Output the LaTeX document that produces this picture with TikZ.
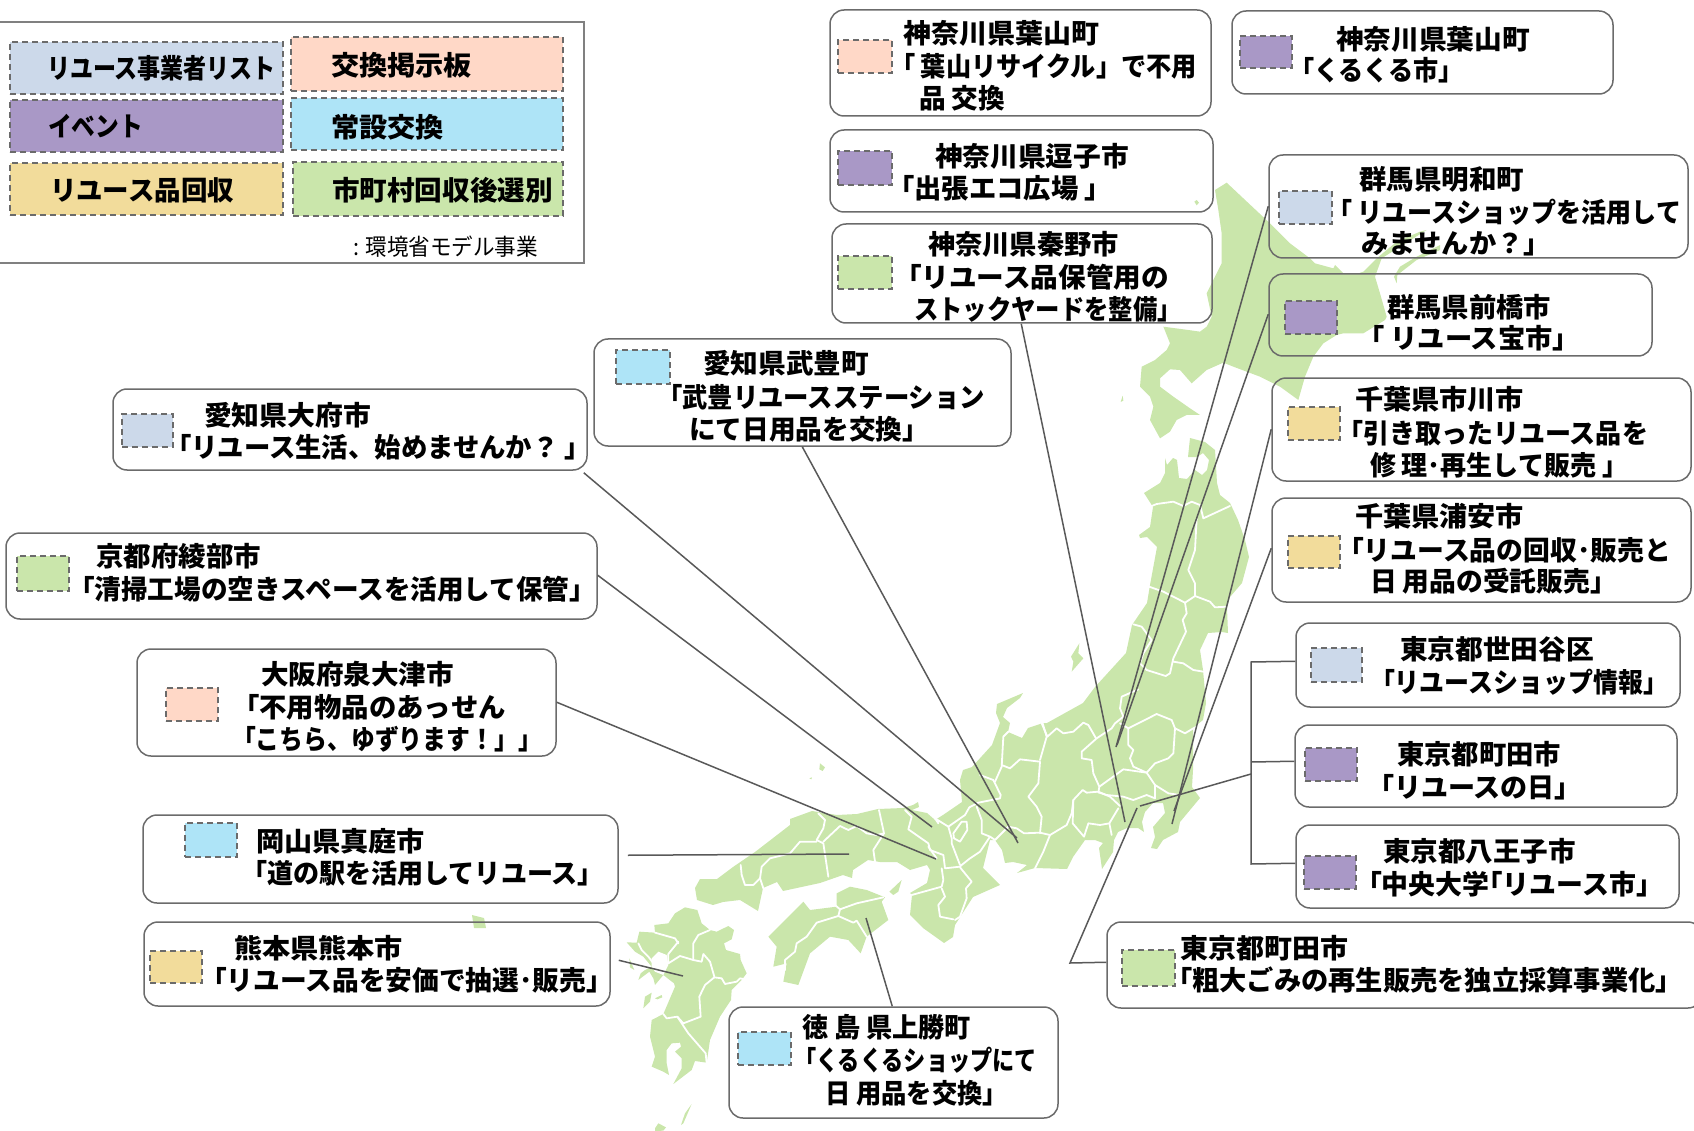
\documentclass[tikz,border=0pt]{standalone}
\usepackage{fontspec}
\usepackage{graphicx}
\setmainfont{Noto Sans CJK JP}
\usetikzlibrary{fit,calc}
\definecolor{landc}{HTML}{CAE6AB}
\definecolor{cblue}{HTML}{CCD9EA}
\definecolor{cpeach}{HTML}{FFD8C7}
\definecolor{cpurple}{HTML}{A998C6}
\definecolor{csky}{HTML}{AEE4F7}
\definecolor{ctan}{HTML}{F2DC9B}
\definecolor{cline}{HTML}{595959}
\definecolor{cbox}{HTML}{6B6B6B}
\tikzset{
  zoomed/.style 2 args={shift={(#1,#2)},x=0.33333pt,y=-0.33333pt},
  land/.style={fill=landc,draw=none},
  ml/.style={draw=white,line width=1.8pt,line join=round,line cap=round},
  conn/.style={draw=cline,line width=1.5pt,line join=miter},
  calloutbox/.style={draw=cbox,line width=1.5pt,rounded corners=14pt,inner sep=0pt},
  legendframe/.style={draw=black!50,line width=1.5pt,inner sep=0pt},
  swatchbox/.style={draw=cbox,line width=1.5pt,dash pattern=on 6pt off 4pt,inner sep=0pt},
  lbl/.style={anchor=west,inner sep=0pt,outer sep=0pt,font=\fontsize{27}{30}\selectfont\bfseries},
  lblthin/.style={anchor=west,inner sep=0pt,outer sep=0pt,font=\fontsize{23}{26}\selectfont},
}
\newcommand\callout[5]{\path (#2,#3) coordinate (tmpa) (#4,#5) coordinate (tmpb);\node[calloutbox,fit=(tmpa)(tmpb)] (#1) {};}
\newcommand\swatch[6]{\path (#2,#3) coordinate (tmpa) (#4,#5) coordinate (tmpb);\node[swatchbox,fill=#6,fit=(tmpa)(tmpb)] (#1) {};}
\newcommand\tl[5]{\pgfmathsetmacro\tlw{#3-#2}\node[lbl] (#1) at (#2,#4) {\resizebox{\tlw pt}{\height}{\vphantom{国}#5}};}
\begin{document}
\begin{tikzpicture}[x=1pt,y=-1pt]
\useasboundingbox (0,0) rectangle (1694,1131);

% ---------- map: Hokkaido
\begin{scope}[zoomed={1000}{130}]
\fill[land] plot coordinates {(680,158) (730,205) (810,280) (870,340) (930,385) (945,400) (1000,415) (1005,405) (1030,430) (1070,432) (1090,425) (1130,385) (1190,335) (1260,305) (1280,300) (1145,385) (1125,440) (1140,490) (1160,560) (1155,570) (1090,610) (1030,610) (1010,615) (970,640) (940,680) (915,740) (895,810) (840,770) (780,740) (700,710) (670,698) (620,720) (575,760) (540,720) (510,718) (480,745) (480,770) (520,800) (570,835) (600,855) (560,855) (530,870) (510,905) (480,925) (450,870) (460,830) (450,800) (420,770) (425,710) (465,690) (500,660) (510,640) (490,590) (565,600) (600,605) (620,590) (635,560) (620,490) (665,400) (665,310) (655,240) (645,180)} -- cycle;
\fill[land] plot coordinates {(1182,440) (1190,460) (1192,435) (1250,390) (1320,360) (1320,345) (1250,380) (1200,410)} -- cycle;
\fill[land] plot coordinates {(583,215) (590,210) (597,218) (590,226)} -- cycle;
\fill[land] plot coordinates {(368,797) (370,812) (362,816)} -- cycle;
\end{scope}

% ---------- map: Honshu
\fill[land] plot coordinates {(1165,458) (1167,465) (1173,458) (1177,460) (1179,478) (1187,479) (1195,470) (1202,475) (1207,470) (1209,460) (1203,453) (1197,457) (1188,457) (1190,438) (1205,442) (1215,450) (1217,483) (1220,495) (1230,503) (1238,520) (1245,540) (1249,557) (1242,583) (1230,597) (1227,608) (1228,633) (1222,632) (1208,633) (1200,650) (1203,670) (1206,703) (1203,720) (1193,728) (1193,770) (1192,787) (1200,798) (1180,822) (1178,832) (1163,840) (1157,849) (1151,848) (1155,837) (1153,827) (1165,813) (1163,803) (1153,803) (1145,812) (1142,822) (1144,832) (1138,828) (1127,828) (1118,832) (1114,840) (1113,852) (1102,869) (1099,848) (1103,843) (1095,840) (1085,840) (1073,857) (1067,869) (1035,868) (1017,873) (1027,865) (1013,862) (1005,863) (1002,850) (995,840) (990,840) (983,868) (1000,885) (973,897) (955,925) (953,937) (944,943) (923,928) (910,915) (912,895) (910,893) (927,883) (930,870) (927,865) (910,870) (897,862) (880,862) (868,860) (853,870) (852,878) (843,875) (820,883) (783,891) (777,882) (763,888) (758,911) (740,900) (723,902) (713,905) (697,900) (695,888) (700,879) (717,879) (733,867) (755,852) (790,825) (790,819) (812,811) (837,815) (857,814) (878,809) (903,808) (913,805) (918,802) (919,807) (912,810) (927,813) (935,820) (943,815) (962,802) (960,780) (963,770) (972,767) (992,745) (1000,723) (996,713) (997,704) (1023,693) (1020,698) (1007,708) (1003,717) (1010,723) (1008,732) (1022,738) (1028,728) (1043,723) (1047,723) (1083,703) (1095,687) (1126,653) (1132,625) (1147,603) (1150,585) (1157,547) (1147,537) (1140,538) (1139,535) (1150,527) (1153,507) (1144,493) (1160,483) (1165,473)} -- cycle;

% ---------- map: Shikoku, Awaji, Oki, Sado
\begin{scope}[zoomed={640}{680}]
\fill[land] plot coordinates {(630,620) (680,630) (735,652) (725,665) (745,720) (680,770) (662,820) (625,780) (570,770) (510,820) (475,915) (430,905) (440,850) (400,860) (410,800) (385,770) (490,665) (510,690) (590,680) (590,640)} -- cycle;
\fill[land] plot coordinates {(785,600) (775,635) (760,645) (748,635)} -- cycle;
\fill[land] plot coordinates {(540,250) (555,262) (548,273) (538,268)} -- cycle;
\fill[land] plot coordinates {(508,295) (516,292) (514,298)} -- cycle;
\end{scope}
\begin{scope}[zoomed={1040}{640}]
\fill[land] plot coordinates {(118,10) (115,40) (130,55) (95,95) (100,65) (93,50)} -- cycle;
\end{scope}

% ---------- map: Kyushu and islands
\begin{scope}[zoomed={600}{880}]
\fill[land] plot coordinates {(255,82) (292,90) (305,130) (330,150) (350,155) (385,138) (402,150) (395,178) (372,190) (378,210) (420,222) (422,240) (440,280) (425,300) (395,330) (393,360) (360,410) (330,480) (320,548) (285,543) (275,570) (220,612) (245,565) (245,535) (225,515) (243,500) (240,488) (215,490) (200,510) (200,550) (207,585) (190,575) (155,560) (165,530) (150,470) (155,420) (190,402) (225,320) (222,310) (190,285) (165,315) (160,295) (148,275) (115,300) (122,280) (135,270) (155,260) (130,230) (105,215) (80,187) (110,188) (118,155) (165,158) (163,135) (205,130) (225,100)} -- cycle;
\fill[white] plot coordinates {(155,235) (175,215) (200,225) (205,255) (190,285) (165,275) (155,260)} -- cycle;
\fill[land] plot coordinates {(135,350) (155,338) (150,365) (130,385)} -- cycle;
\fill[land] plot coordinates {(165,355) (185,345) (187,352) (172,358)} -- cycle;
\fill[land] plot coordinates {(275,672) (250,730) (243,735) (255,700)} -- cycle;
\fill[land] plot coordinates {(165,745) (175,730) (198,742) (190,752) (165,753)} -- cycle;
\fill[land] plot coordinates {(88,235) (103,270) (90,262)} -- cycle;
\draw[ml] plot coordinates {(330,150) (295,165) (280,190) (280,240)};
\draw[ml] plot coordinates {(235,185) (205,222) (205,250) (240,228) (280,240) (305,245) (310,222) (330,245) (343,290)};
\draw[ml] plot coordinates {(343,292) (365,295) (375,312) (410,305) (420,295) (430,297)};
\draw[ml] plot coordinates {(343,292) (315,315) (298,350) (302,410) (250,430) (232,410) (200,415) (190,402)};
\draw[ml] plot coordinates {(232,410) (265,460) (317,520) (320,550)};
\draw[ml] plot coordinates {(165,158) (225,175) (235,190)};
\draw[ml] plot coordinates {(115,190) (125,210) (145,230) (160,250)};
\end{scope}
\fill[land] plot coordinates {(472,915) (484,918) (486,928) (474,928)} -- cycle;

% ---------- map: prefecture borders, Tohoku
\begin{scope}[zoomed={1000}{450}]
\draw[ml] plot coordinates {(450,170) (470,162) (520,155) (550,168) (575,155) (600,165) (610,205) (690,168)};
\draw[ml] plot coordinates {(590,205) (585,300) (565,360) (585,400) (585,438)};
\draw[ml] plot coordinates {(447,410) (490,425) (555,458) (585,438) (630,455) (645,472) (680,470)};
\draw[ml] plot coordinates {(555,458) (560,490) (548,510) (558,545) (520,625) (510,670) (497,678)};
\draw[ml] plot coordinates {(400,523) (425,530) (455,570) (430,610) (420,640) (440,660) (497,678)};
\draw[ml] plot coordinates {(520,635) (550,640) (580,660) (610,665)};
\end{scope}
% ---------- Kanto
\begin{scope}[zoomed={1040}{640}]
\draw[ml] plot coordinates {(265,265) (350,222) (395,240) (405,265) (435,280) (460,265) (490,250)};
\draw[ml] plot coordinates {(265,265) (265,315) (280,330) (270,355) (280,380) (320,398)};
\draw[ml] plot coordinates {(405,265) (400,340) (385,355) (345,370) (320,398)};
\draw[ml] plot coordinates {(178,440) (250,388) (320,398) (345,435) (345,475)};
\draw[ml] plot coordinates {(345,435) (385,460) (420,465)};
\draw[ml] plot coordinates {(178,458) (200,465) (250,470) (280,480) (320,465) (345,475)};
\draw[ml] plot coordinates {(295,148) (245,170) (240,205) (250,230) (225,250) (215,265) (170,295) (125,335) (125,355) (155,360) (160,400) (178,440) (175,458)};
\draw[ml] plot coordinates {(5,250) (22,290) (50,265) (70,280) (100,275) (130,248) (145,255) (168,295)};
\draw[ml] plot coordinates {(240,250) (265,265)};
\end{scope}
% ---------- Chubu, Kinki
\begin{scope}[zoomed={880}{680}]
\draw[ml] plot coordinates {(488,130) (500,170) (480,240)};
\draw[ml] plot coordinates {(385,155) (370,170) (365,260) (345,305)};
\draw[ml] plot coordinates {(365,255) (390,265) (420,238) (480,245) (475,310) (445,350) (470,380) (485,410) (480,460)};
\draw[ml] plot coordinates {(385,440) (410,445) (432,460) (480,458) (510,465) (560,435) (575,400)};
\draw[ml] plot coordinates {(575,400) (580,360) (608,330) (620,338) (655,335) (690,350) (720,378)};
\draw[ml] plot coordinates {(510,465) (490,515) (465,565)};
\draw[ml] plot coordinates {(580,360) (578,430) (612,470) (625,430) (660,435) (688,430) (715,385)};
\draw[ml] plot coordinates {(688,430) (695,465)};
\draw[ml] plot coordinates {(300,285) (340,300) (362,345) (360,355) (295,368) (268,382) (255,405) (205,440) (165,415) (175,430)};
\draw[ml] plot coordinates {(290,380) (305,420) (305,460) (330,470) (345,480) (385,440)};
\draw[ml] plot coordinates {(245,425) (260,425) (262,450) (240,485) (222,475) (220,460)} -- cycle;
\draw[ml] plot coordinates {(330,470) (300,515) (270,535) (245,555) (240,560)};
\draw[ml] plot coordinates {(205,440) (215,475) (215,490) (240,555)};
\draw[ml] plot coordinates {(75,390) (95,410) (85,448) (145,490) (150,510) (190,525) (195,565) (240,560)};
\draw[ml] plot coordinates {(145,500) (170,535)};
\draw[ml] plot coordinates {(185,565) (190,600) (185,620) (95,645)};
\draw[ml] plot coordinates {(240,562) (275,605) (258,625) (260,655) (240,710) (225,720)};
\draw[ml] plot coordinates {(185,625) (195,650) (175,675) (180,710) (220,718)};
\end{scope}
% ---------- Chugoku, Shikoku
\begin{scope}[zoomed={680}{790}]
\draw[ml] plot coordinates {(597,60) (612,130) (580,180) (585,215)};
\draw[ml] plot coordinates {(430,155) (480,108) (505,120) (530,108) (560,130) (590,135) (612,130)};
\draw[ml] plot coordinates {(415,70) (435,90) (430,115) (410,150) (430,160) (445,260)};
\draw[ml] plot coordinates {(410,155) (360,155) (330,190) (270,205) (245,230) (240,265) (220,285) (195,285) (185,255) (182,225)};
\draw[ml] plot coordinates {(240,265) (250,295)};
\draw[ml] plot coordinates {(465,345) (480,358) (530,340) (610,322)};
\draw[ml] plot coordinates {(480,358) (475,378) (520,398) (530,392) (560,440)};
\draw[ml] plot coordinates {(475,378) (410,398) (380,440) (350,460) (345,485) (315,510) (315,540)};
\end{scope}

% ---------- legend
\path (-5,22) coordinate (tmpa) (584,263) coordinate (tmpb);
\node[legendframe,fit=(tmpa)(tmpb)] (legend) {};
\swatch{lega}{10}{42}{283}{94}{cblue}
\swatch{legb}{291}{37}{563}{91}{cpeach}
\swatch{legc}{10}{100}{283}{152}{cpurple}
\swatch{legd}{291}{98}{563}{150}{csky}
\swatch{lege}{10}{163}{283}{215}{ctan}
\swatch{legf}{293}{162}{563}{216}{landc}
\tl{ta}{47}{276}{68}{リユース事業者リスト}
\tl{tb}{331}{472}{65}{交換掲示板}
\tl{tc}{48}{143}{127}{イベント}
\tl{td}{331}{444}{127}{常設交換}
\tl{te}{50}{234}{190}{リユース品回収}
\tl{tf}{332}{553}{190}{市町村回収後選別}
\node[lblthin] (tg) at (353,247) {\resizebox{185pt}{\height}{\vphantom{国}: 環境省モデル事業}};

% ---------- callouts
\callout{b1}{830}{10}{1211}{116}
\swatch{s1}{838}{40}{892}{73}{cpeach}
\tl{b1a}{903}{1099}{33}{神奈川県葉山町}
\tl{b1b}{890}{1197}{66}{「 葉山リサイクル」で不用}
\tl{b1c}{919}{1005}{98}{品 交換}

\callout{b2}{1232}{11}{1613}{94}
\swatch{s2}{1240}{36}{1292}{68}{cpurple}
\tl{b2a}{1336}{1530}{39}{神奈川県葉山町}
\tl{b2b}{1289}{1464}{70}{「くるくる市」}

\callout{b3}{830}{130}{1213}{212}
\swatch{s3}{838}{151}{892}{185}{cpurple}
\tl{b3a}{935}{1129}{156}{神奈川県逗子市}
\tl{b3b}{887}{1112}{188}{「出張エコ広場 」}

\callout{b4}{832}{224}{1212}{323}
\swatch{s4}{838}{256}{892}{289}{landc}
\tl{b4a}{928}{1119}{244}{神奈川県秦野市}
\tl{b4b}{894}{1169}{277}{「リユース品保管用の}
\tl{b4c}{914}{1182}{309}{ストックヤードを整備」}

\callout{b5}{1269}{155}{1688}{258}
\swatch{s5}{1279}{191}{1332}{224}{cblue}
\tl{b5a}{1359}{1524}{179}{群馬県明和町}
\tl{b5b}{1327}{1681}{212}{「 リユースショップを活用して}
\tl{b5c}{1361}{1551}{244}{みませんか？」}

\callout{b6}{1269}{274}{1652}{356}
\swatch{s6}{1285}{301}{1337}{334}{cpurple}
\tl{b6a}{1387}{1551}{307}{群馬県前橋市}
\tl{b6b}{1357}{1580}{338}{「 リユース宝市」}

\callout{b7}{1272}{378}{1691}{481}
\swatch{s7}{1288}{407}{1340}{440}{ctan}
\tl{b7a}{1355}{1524}{399}{千葉県市川市}
\tl{b7b}{1337}{1648}{433}{「引き取ったリユース品を}
\tl{b7c}{1370}{1628}{465}{修 理･再生して販売 」}

\callout{b8}{1272}{498}{1691}{602}
\swatch{s8}{1288}{536}{1340}{568}{ctan}
\tl{b8a}{1355}{1524}{516}{千葉県浦安市}
\tl{b8b}{1337}{1671}{550}{「リユース品の回収･販売と}
\tl{b8c}{1370}{1617}{581}{日 用品の受託販売」}

\callout{b9}{1296}{623}{1680}{707}
\swatch{s9}{1311}{648}{1362}{682}{cblue}
\tl{b9a}{1400}{1594}{649}{東京都世田谷区}
\tl{b9b}{1370}{1668}{682}{「リユースショップ情報」}

\callout{b10}{1295}{725}{1677}{807}
\swatch{s10}{1305}{748}{1357}{781}{cpurple}
\tl{b10a}{1397}{1561}{754}{東京都町田市}
\tl{b10b}{1367}{1582}{787}{「リユースの日」}

\callout{b11}{1296}{825}{1679}{908}
\swatch{s11}{1304}{856}{1356}{889}{cpurple}
\tl{b11a}{1383}{1576}{851}{東京都八王子市}
\tl{b11b}{1355}{1663}{884}{「中央大学｢リユース市」}

\callout{b12}{1107}{922}{1702}{1008}
\swatch{s12}{1122}{950}{1175}{986}{landc}
\tl{b12a}{1180}{1348}{948}{東京都町田市}
\tl{b12b}{1165}{1683}{980}{「粗大ごみの再生販売を独立採算事業化」}

\callout{b13}{729}{1007}{1058}{1118}
\swatch{s13}{738}{1032}{791}{1065}{csky}
\tl{b13a}{802}{971}{1027}{徳 島 県上勝町}
\tl{b13b}{794}{1037}{1060}{「くるくるショップにて}
\tl{b13c}{825}{1008}{1093}{日 用品を交換」}

\callout{b14}{144}{922}{610}{1006}
\swatch{s14}{150}{951}{202}{983}{ctan}
\tl{b14a}{234}{403}{948}{熊本県熊本市}
\tl{b14b}{200}{613}{980}{「リユース品を安価で抽選･販売」}

\callout{b15}{143}{815}{618}{903}
\swatch{s15}{185}{823}{237}{857}{csky}
\tl{b15a}{256}{425}{841}{岡山県真庭市}
\tl{b15b}{241}{604}{873}{「道の駅を活用してリユース」}

\callout{b16}{137}{649}{556}{756}
\swatch{s16}{166}{688}{218}{721}{cpeach}
\tl{b16a}{261}{454}{674}{大阪府泉大津市}
\tl{b16b}{232}{506}{707}{「不用物品のあっせん}
\tl{b16c}{232}{542}{739}{「こちら、ゆずります！」」}

\callout{b17}{6}{533}{597}{619}
\swatch{s17}{17}{556}{69}{591}{landc}
\tl{b17a}{96}{261}{556}{京都府綾部市}
\tl{b17b}{68}{596}{589}{「清掃工場の空きスペースを活用して保管」}

\callout{b18}{113}{389}{587}{470}
\swatch{s18}{122}{414}{173}{447}{cblue}
\tl{b18a}{204}{371}{415}{愛知県大府市}
\tl{b18b}{165}{591}{447}{「リユース生活、始めませんか？ 」}

\callout{b19}{594}{339}{1011}{446}
\swatch{s19}{616}{350}{670}{384}{csky}
\tl{b19a}{703}{869}{363}{愛知県武豊町}
\tl{b19b}{657}{985}{397}{「武豊リユースステーション}
\tl{b19c}{689}{929}{429}{にて日用品を交換」}

% ---------- connector ends
\coordinate (t4) at (1125,822);
\coordinate (t5) at (1116,747);
\coordinate (t6) at (1117,745);
\coordinate (t7) at (1172,824);
\coordinate (t8) at (1174,811);
\coordinate (brtop) at (1251,662);
\coordinate (brbot) at (1251,864);
\coordinate (brmid) at (1251,762);
\coordinate (brjoin) at (1251,774);
\coordinate (brtip) at (1140,806);
\coordinate (elbow) at (1070,963);
\coordinate (t12) at (1137,808);
\coordinate (t19) at (1018,843);
\coordinate (t18) at (1017,838);
\coordinate (t17) at (932,827);
\coordinate (t16) at (936,859);
\coordinate (t15) at (849,854);
\coordinate (t14) at (683,976);
\coordinate (t13) at (866,918);

% ---------- connectors
\draw[conn] ([xshift=190pt]b4.south west) -- (t4);
\draw[conn] ([yshift=-52pt]b5.north west) -- (t5);
\draw[conn] ([yshift=-41pt]b6.north west) -- (t6);
\draw[conn] ([yshift=-52pt]b7.north west) -- (t7);
\draw[conn] ([yshift=-51pt]b8.north west) -- (t8);
\draw[conn] ([yshift=-39pt]b9.north west) -- (brtop) -- (brbot) -- ([yshift=-39pt]b11.north west);
\draw[conn] ([yshift=-37pt]b10.north west) -- (brmid);
\draw[conn] (brjoin) -- (brtip);
\draw[conn] ([yshift=-41pt]b12.north west) -- (elbow) -- (t12);
\draw[conn] ([xshift=209pt]b19.south west) -- (t19);
\draw[conn] ([xshift=-4pt,yshift=-2pt]b18.south east) -- (t18);
\draw[conn] ([yshift=-43pt]b17.north east) -- (t17);
\draw[conn] ([yshift=-54pt]b16.north east) -- (t16);
\draw[conn] ([xshift=9pt,yshift=-41pt]b15.north east) -- (t15);
\draw[conn] ([xshift=8pt,yshift=-39pt]b14.north east) -- (t14);
\draw[conn] ([xshift=164pt]b13.north west) -- (t13);
\end{tikzpicture}
\end{document}
